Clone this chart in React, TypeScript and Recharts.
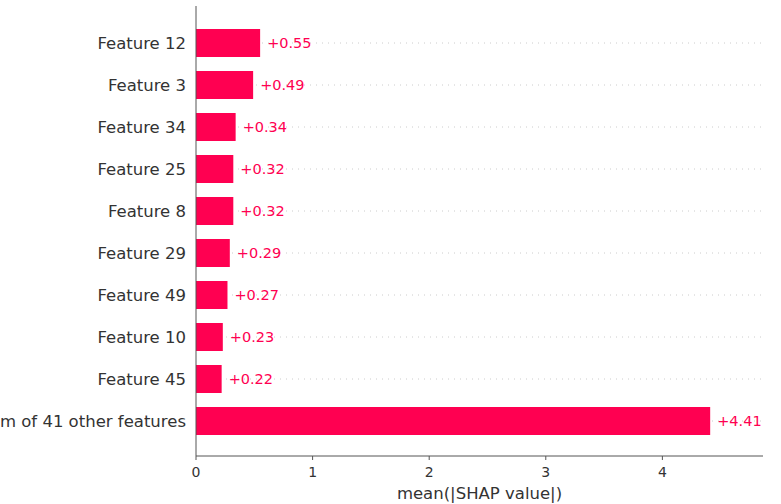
import React from "react";
import { BarChart, Bar, XAxis, YAxis, LabelList } from "recharts";

const features = [
  "Feature 12",
  "Feature 3",
  "Feature 34",
  "Feature 25",
  "Feature 8",
  "Feature 29",
  "Feature 49",
  "Feature 10",
  "Feature 45",
  "Sum of 41 other features",
];
const shapValues = [0.55, 0.49, 0.34, 0.32, 0.32, 0.29, 0.27, 0.23, 0.22, 4.41];
const xTicks = [0, 1, 2, 3, 4];

const data = features.map((name, i) => ({ name, value: shapValues[i] }));

const FONT = "DejaVu Sans, sans-serif";
const RED = "#ff0051";

const YTick = (props: any) => {
  const { x, y, payload } = props;
  return (
    <text x={x} y={y} dy="0.36em" textAnchor="end" fill="#333333" fontSize={16.5} fontFamily={FONT}>
      {payload.value}
    </text>
  );
};

const RowGuide = (props: any) => {
  const { x, y, width, height } = props;
  if (![x, y, width, height].every((v) => Number.isFinite(v))) return null;
  const cy = y + height / 2;
  return (
    <line x1={x} x2={x + width} y1={cy} y2={cy} stroke="#cccccc" strokeWidth={1} strokeDasharray="1 5" />
  );
};

export default function App() {
  return (
    <div style={{ position: "absolute", left: 0, top: 0 }}>
      <BarChart
        width={781}
        height={504}
        data={data}
        layout="vertical"
        margin={{ top: 6, right: 18, bottom: 0, left: 0 }}
      >
        <XAxis
          type="number"
          domain={[0, 4.863]}
          ticks={xTicks}
          allowDataOverflow
          height={48}
          stroke="#555555"
          tickSize={4}
          tickMargin={7}
          tick={{ fill: "#333333", fontSize: 14, fontFamily: FONT }}
          label={{
            value: "mean(|SHAP value|)",
            position: "insideBottom",
            offset: 5,
            fill: "#333333",
            fontSize: 16.5,
            fontFamily: FONT,
          }}
        />
        <YAxis
          type="category"
          dataKey="name"
          width={196}
          stroke="#555555"
          tickLine={false}
          tickSize={0}
          tickMargin={10}
          padding={{ top: 16, bottom: 14 }}
          tick={<YTick />}
          interval={0}
        />
        <Bar
          dataKey="value"
          fill={RED}
          barSize={28}
          isAnimationActive={false}
          background={<RowGuide />}
        >
          <LabelList
            dataKey="value"
            position="right"
            offset={7}
            formatter={(v: any) => `+${Number(v).toFixed(2)}`}
            fill={RED}
            fontSize={14.5}
            fontFamily={FONT}
          />
        </Bar>
      </BarChart>
    </div>
  );
}
